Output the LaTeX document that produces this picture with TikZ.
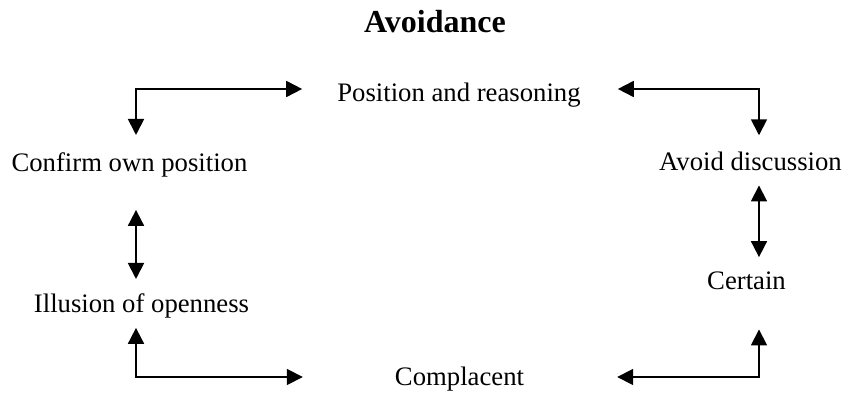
\documentclass[tikz,border=0pt]{standalone}
\usepackage{fontspec}
\setmainfont{Liberation Serif}
\usetikzlibrary{arrows.meta}
\begin{document}
\begin{tikzpicture}[x=1pt,y=-1pt,
    lbl/.style={anchor=base,inner sep=0pt,font=\fontsize{26.7}{32}\selectfont},
    link/.style={{Triangle[length=16pt,width=16pt]}-{Triangle[length=16pt,width=16pt]},line width=1.8pt}]
    \useasboundingbox (0,0) rectangle (847,395);
    \node[anchor=base,inner sep=0pt,font=\fontsize{32}{38}\selectfont\bfseries] (title) at (435,33) {Avoidance};
    \node[lbl] (pos) at (459,102) {Position and reasoning};
    \node[lbl] (conf) at (129.5,172) {Confirm own position};
    \node[lbl] (avoid) at (750.5,171) {Avoid discussion};
    \node[lbl] (cert) at (746.5,290) {Certain};
    \node[lbl] (ill) at (141.5,313) {Illusion of openness};
    \node[lbl] (comp) at (459.5,386) {Complacent};
    % corners of the loop
    \coordinate (tl) at (136,89);
    \coordinate (tr) at (759,89);
    \coordinate (bl) at (136,377);
    \coordinate (br) at (759,377);
    \draw[link,shorten <=18pt,shorten >=35pt] (conf.north -| tl) -- (tl) -- (tl -| pos.west);
    \draw[link,shorten <=37pt,shorten >=17pt] (tr -| pos.east) -- (tr) -- (avoid.north -| tr);
    \draw[link,shorten <=32pt,shorten >=15pt] (conf.south -| tl) -- (ill.north -| tl);
    \draw[link,shorten <=14pt,shorten >=15pt] (avoid.south -| tr) -- (cert.north -| tr);
    \draw[link,shorten <=9pt,shorten >=92pt] (ill.south -| bl) -- (bl) -- (bl -| comp.west);
    \draw[link,shorten <=93pt,shorten >=39pt] (br -| comp.east) -- (br) -- (cert.south -| br);
\end{tikzpicture}
\end{document}
